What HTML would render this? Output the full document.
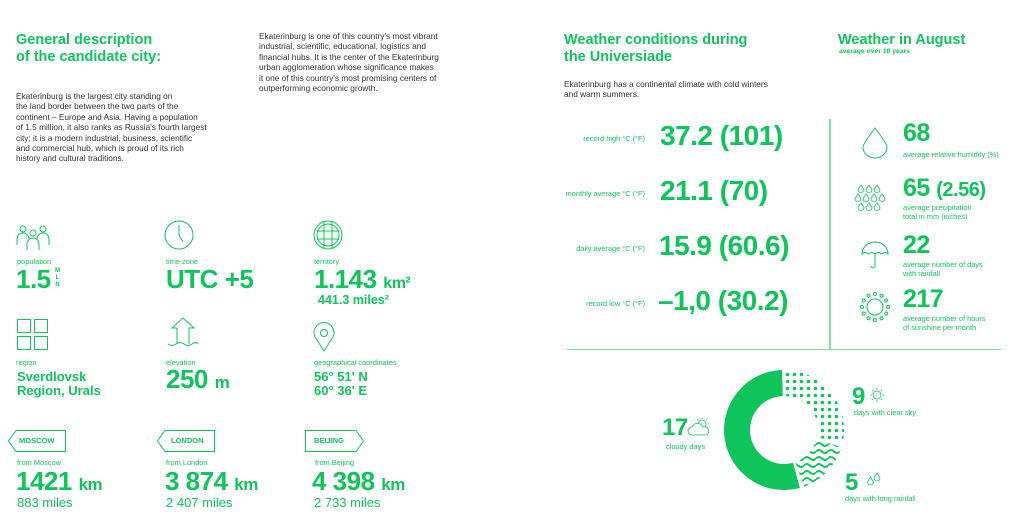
<!DOCTYPE html>
<html><head><meta charset="utf-8">
<style>
body{margin:0;width:1032px;height:532px;background:#fff;position:relative;overflow:hidden;font-family:"Liberation Sans",sans-serif;color:#10c45c}
.a{position:absolute;white-space:nowrap}
.h{font-weight:bold;font-size:14.5px;line-height:17px;color:#10c45c}
.p{font-size:8.3px;line-height:10.4px;color:#333}
.l{font-size:7.4px;color:#10c45c}
.b{font-weight:bold;color:#10c45c;letter-spacing:-0.5px}
.s{font-weight:bold;color:#10c45c}
svg{position:absolute;overflow:visible}
</style></head><body>
<div class="a h" style="left:16px;top:32px">General description<br>of the candidate city:</div>
<div class="a p" style="left:16px;top:91px">Ekaterinburg is the largest city standing on<br>the land border between the two parts of the<br>continent – Europe and Asia. Having a population<br>of 1.5 million, it also ranks as Russia's fourth largest<br>city; it is a modern industrial, business, scientific<br>and commercial hub, which is proud of its rich<br>history and cultural traditions.</div>
<div class="a p" style="left:259px;top:31px">Ekaterinburg is one of this country's most vibrant<br>industrial, scientific, educational, logistics and<br>financial hubs. It is the center of the Ekaterinburg<br>urban agglomeration whose significance makes<br>it one of this country's most promising centers of<br>outperforming economic growth.</div>

<svg style="left:16px;top:224px" width="36" height="26" fill="none" stroke="#10c45c" stroke-width="1"><circle cx="7" cy="5" r="3"/><circle cx="17" cy="9" r="3"/><circle cx="27" cy="5" r="3"/><path d="M1 21v-6a6 6 0 0 1 12 0M11 26v-6a6 6 0 0 1 12 0v6M21 15a6 6 0 0 1 12 0v6"/></svg>
<svg style="left:164px;top:220px" width="30" height="30" fill="none" stroke="#10c45c" stroke-width="1"><circle cx="15" cy="15" r="14"/><path d="M15 5v10l4 7"/></svg>
<svg style="left:313px;top:220px" width="30" height="30" fill="none" stroke="#10c45c" stroke-width="1"><circle cx="15" cy="15" r="14"/><circle cx="15" cy="15" r="11"/><path d="M4 11h22M4 19h22M11 2v26M19 2v26"/></svg>
<div class="a l" style="left:17px;top:257px">population</div>
<div class="a l" style="left:166px;top:257px">time zone</div>
<div class="a l" style="left:314px;top:257px">territory</div>
<div class="a b" style="left:16px;top:264px;font-size:26px">1.5</div>
<div class="a s" style="left:55px;top:268px;font-size:6px;line-height:7px;text-align:center">M<br>L<br>N</div>
<div class="a b" style="left:166px;top:264px;font-size:26px">UTC +5</div>
<div class="a b" style="left:314px;top:264px;font-size:26px">1.143 <span style="font-size:16px">km²</span></div>
<div class="a s" style="left:318px;top:293px;font-size:12.5px">441.3 miles²</div>

<svg style="left:17px;top:319px" width="31" height="31" fill="none" stroke="#10c45c" stroke-width="1"><rect x="0.5" y="0.5" width="13" height="13"/><rect x="17.5" y="0.5" width="13" height="13"/><rect x="0.5" y="17.5" width="13" height="13"/><rect x="17.5" y="17.5" width="13" height="13"/></svg>
<svg style="left:167px;top:317px" width="32" height="32" fill="none" stroke="#10c45c" stroke-width="1"><path d="M10 27V11H5l11-10 11 10h-5v16"/><path d="M1 27q4 3 8 0t8 0 8 0 6 0"/></svg>
<svg style="left:313px;top:322px" width="22" height="30" fill="none" stroke="#10c45c" stroke-width="1"><path d="M11 29L2 15a10 10 0 1 1 18 0z"/><circle cx="11" cy="11" r="3.5"/></svg>
<div class="a l" style="left:16px;top:358px">region</div>
<div class="a l" style="left:166px;top:358px">elevation</div>
<div class="a l" style="left:314px;top:358px">geographical coordinates</div>
<div class="a s" style="left:17px;top:370px;font-size:13px;line-height:14px">Sverdlovsk<br>Region, Urals</div>
<div class="a b" style="left:166px;top:364px;font-size:26px">250 <span style="font-size:17px">m</span></div>
<div class="a s" style="left:314px;top:370px;font-size:13px;line-height:14px">56° 51' N<br>60° 36' E</div>

<svg style="left:8px;top:430px" width="58" height="22" fill="none" stroke="#10c45c" stroke-width="1"><path d="M8 0.5H57.5V21.5H8L0.5 11z"/></svg>
<div class="a s" style="left:19px;top:436px;font-size:7.5px">MOSCOW</div>
<svg style="left:157px;top:430px" width="58" height="22" fill="none" stroke="#10c45c" stroke-width="1"><path d="M8 0.5H57.5V21.5H8L0.5 11z"/></svg>
<div class="a s" style="left:171px;top:436px;font-size:7.5px">LONDON</div>
<svg style="left:305px;top:430px" width="60" height="22" fill="none" stroke="#10c45c" stroke-width="1"><path d="M0.5 0.5H51L58.5 11L51 21.5H0.5z"/></svg>
<div class="a s" style="left:314px;top:436px;font-size:7.5px">BEIJING</div>
<div class="a l" style="left:17px;top:458px">from Moscow</div>
<div class="a l" style="left:166px;top:458px">from London</div>
<div class="a l" style="left:315px;top:458px">from Beijing</div>
<div class="a b" style="left:16px;top:466px;font-size:26px">1421 <span style="font-size:17px">km</span></div>
<div class="a b" style="left:165px;top:466px;font-size:26px">3 874 <span style="font-size:17px">km</span></div>
<div class="a b" style="left:312px;top:466px;font-size:26px">4 398 <span style="font-size:17px">km</span></div>
<div class="a s" style="left:17px;top:495px;font-size:13px;font-weight:normal">883 miles</div>
<div class="a s" style="left:166px;top:495px;font-size:13px;font-weight:normal">2 407 miles</div>
<div class="a s" style="left:314px;top:495px;font-size:13px;font-weight:normal">2 733 miles</div>

<div class="a h" style="left:564px;top:32px">Weather conditions during<br>the Universiade</div>
<div class="a h" style="left:838px;top:32px">Weather in August</div>
<div class="a s" style="left:839px;top:48px;font-size:6.8px">average over 10 years</div>
<div class="a p" style="left:564px;top:79px">Ekaterinburg has a continental climate with cold winters<br>and warm summers.</div>

<div class="a l" style="left:540px;width:105px;text-align:right;top:134px">record high °C (°F)</div>
<div class="a l" style="left:520px;width:125px;text-align:right;top:189px">monthly average °C (°F)</div>
<div class="a l" style="left:520px;width:125px;text-align:right;top:244px">daily average °C (°F)</div>
<div class="a l" style="left:520px;width:125px;text-align:right;top:299px">record low °C (°F)</div>
<div class="a b" style="left:660px;top:120px;font-size:28px">37.2 (101)</div>
<div class="a b" style="left:660px;top:175px;font-size:28px">21.1 (70)</div>
<div class="a b" style="left:659px;top:230px;font-size:28px">15.9 (60.6)</div>
<div class="a b" style="left:658px;top:285px;font-size:28px">–1,0 (30.2)</div>

<div class="a" style="left:829px;top:119px;width:2px;height:231px;background:#7ddca3"></div>
<div class="a" style="left:567px;top:349px;width:434px;height:1px;background:#7ddca3"></div>

<svg style="left:862px;top:127px" width="26" height="32" fill="none" stroke="#10c45c" stroke-width="1"><path d="M13 1Q1 17 1 20a12 11 0 0 0 24 0Q25 17 13 1z"/></svg>
<svg style="left:857px;top:184px" width="32" height="28" fill="none" stroke="#10c45c" stroke-width="0.8"><g id="d"><path d="M4 1l-3 4.5a3 3 0 0 0 6 0z"/></g><use href="#d" x="8"/><use href="#d" x="16"/><use href="#d" y="9" x="-3"/><use href="#d" y="9" x="5"/><use href="#d" y="9" x="13"/><use href="#d" y="9" x="21"/><use href="#d" y="18"/><use href="#d" y="18" x="8"/><use href="#d" y="18" x="16"/></svg>
<svg style="left:861px;top:241px" width="28" height="30" fill="none" stroke="#10c45c" stroke-width="1"><path d="M1 13a13 12 0 0 1 26 0q-3-3-6.5 0q-3-3-6.5 0q-3-3-6.5 0Q4 10 1 13zM14 13v12a2 2 0 0 1-4 0"/></svg>
<svg style="left:860px;top:292px" width="30" height="30" fill="none" stroke="#10c45c" stroke-width="1"><circle cx="15" cy="15" r="8"/><g id="r"><circle cx="15" cy="2" r="1.5"/></g><use href="#r" transform="rotate(30 15 15)"/><use href="#r" transform="rotate(60 15 15)"/><use href="#r" transform="rotate(90 15 15)"/><use href="#r" transform="rotate(120 15 15)"/><use href="#r" transform="rotate(150 15 15)"/><use href="#r" transform="rotate(180 15 15)"/><use href="#r" transform="rotate(210 15 15)"/><use href="#r" transform="rotate(240 15 15)"/><use href="#r" transform="rotate(270 15 15)"/><use href="#r" transform="rotate(300 15 15)"/><use href="#r" transform="rotate(330 15 15)"/></svg>

<div class="a b" style="left:903px;top:119px;font-size:25px">68</div>
<div class="a l" style="left:903px;top:150px">average relative humidity (%)</div>
<div class="a b" style="left:903px;top:174px;font-size:25px">65 <span style="font-size:20px">(2.56)</span></div>
<div class="a l" style="left:903px;top:204px;line-height:8.5px">average precipitation<br>total in mm (inches)</div>
<div class="a b" style="left:903px;top:231px;font-size:25px">22</div>
<div class="a l" style="left:903px;top:261px;line-height:8.5px">average number of days<br>with rainfall</div>
<div class="a b" style="left:903px;top:285px;font-size:25px">217</div>
<div class="a l" style="left:903px;top:315px;line-height:8.5px">average number of hours<br>of sunshine per month</div>

<svg id="donut" style="left:0;top:0" width="1032" height="532">
<defs>
<pattern id="dots" width="7" height="7" patternUnits="userSpaceOnUse"><circle cx="3.5" cy="3.5" r="1.8" fill="#10c45c"/></pattern>
<pattern id="waves" width="12" height="7" patternUnits="userSpaceOnUse"><path d="M0 3.5q3-3 6 0t6 0" fill="none" stroke="#10c45c" stroke-width="2"/></pattern>
</defs>
</svg>
<div class="a b" style="left:662px;top:414px;font-size:24px">17</div>
<svg style="left:688px;top:418px" width="24" height="18" fill="none" stroke="#10c45c" stroke-width="0.8"><circle cx="14" cy="6" r="4"/><path d="M14 0v1M20 6h1M18 2l1-1M10 2L9 1"/><path d="M4 17a4 4 0 0 1 0-8a6 6 0 0 1 11 0a4 4 0 0 1 3 8z" fill="#fff"/></svg>
<div class="a l" style="left:666px;top:442px">cloudy days</div>
<div class="a b" style="left:852px;top:383px;font-size:24px">9</div>
<svg style="left:870px;top:388px" width="14" height="14" fill="none" stroke="#10c45c" stroke-width="0.8"><circle cx="7" cy="7" r="4"/><path d="M7 0v2M7 12v2M0 7h2M12 7h2M2 2l1.4 1.4M10.6 10.6L12 12M2 12l1.4-1.4M10.6 3.4L12 2"/></svg>
<div class="a l" style="left:854px;top:408px">days with clear sky</div>
<div class="a b" style="left:845px;top:469px;font-size:24px">5</div>
<svg style="left:867px;top:473px" width="14" height="14" fill="none" stroke="#10c45c" stroke-width="0.8"><path d="M3.5 4l-3 5a3 3 0 0 0 6 0zM10 0l-3 5a3 3 0 0 0 6 0z"/></svg>
<div class="a l" style="left:845px;top:494px">days with long rainfall</div>

<script>
const categories = ["clear sky", "long rainfall", "cloudy"];
const dayCounts = [9, 5, 17];
const fills = ["url(#dots)", "url(#waves)", "#10c45c"];
const svg = document.getElementById('donut');
const cx = 784, cy = 430, R = 60, r = 34, gapDeg = 4;
const total = dayCounts.reduce((a, b) => a + b, 0);
function pt(rad, deg){ const a = deg * Math.PI / 180; return [cx + rad * Math.cos(a), cy + rad * Math.sin(a)]; }
let start = -90;
dayCounts.forEach((v, i) => {
  const sweep = v / total * 360;
  const a0 = start + gapDeg / 2, a1 = start + sweep - gapDeg / 2;
  const large = (a1 - a0) > 180 ? 1 : 0;
  const [x0, y0] = pt(R, a0), [x1, y1] = pt(R, a1), [x2, y2] = pt(r, a1), [x3, y3] = pt(r, a0);
  const p = document.createElementNS('http://www.w3.org/2000/svg', 'path');
  p.setAttribute('d', `M${x0} ${y0}A${R} ${R} 0 ${large} 1 ${x1} ${y1}L${x2} ${y2}A${r} ${r} 0 ${large} 0 ${x3} ${y3}Z`);
  p.setAttribute('fill', fills[i]);
  
  
  svg.appendChild(p);
  start += sweep;
});
</script>
</body></html>
